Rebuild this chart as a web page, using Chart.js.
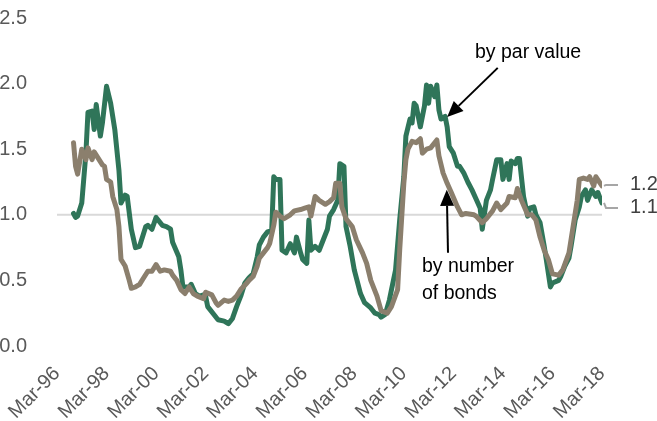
<!DOCTYPE html>
<html>
<head>
<meta charset="utf-8">
<script src="https://cdn.jsdelivr.net/npm/chart.js@4.4.1/dist/chart.umd.min.js"></script>
<style>
  html, body { margin: 0; padding: 0; background: #fff; }
  #chart { display: block; }
</style>
</head>
<body>
<canvas id="chart" width="657" height="421"></canvas>
<script>
// Axis labels (every 24 months starting Mar-96)
const tickLabels = ['Mar-96', 'Mar-98', 'Mar-00', 'Mar-02', 'Mar-04', 'Mar-06',
                    'Mar-08', 'Mar-10', 'Mar-12', 'Mar-14', 'Mar-16', 'Mar-18'];

// Ratio by par value
const parDates = [
  '1996-11', '1996-12', '1997-01', '1997-03', '1997-05', '1997-06', '1997-08', '1997-09', '1997-10', '1997-12',
  '1998-01', '1998-03', '1998-05', '1998-07', '1998-09', '1998-10', '1998-12', '1999-01', '1999-03', '1999-05',
  '1999-07', '1999-10', '1999-11', '2000-01', '2000-03', '2000-06', '2000-08', '2000-10', '2000-11', '2001-02',
  '2001-03', '2001-04', '2001-07', '2001-08', '2001-10', '2001-12', '2002-02', '2002-03', '2002-04', '2002-07',
  '2002-09', '2002-12', '2003-02', '2003-04', '2003-06', '2003-08', '2003-10', '2003-12', '2004-02', '2004-04',
  '2004-05', '2004-07', '2004-09', '2004-11', '2004-12', '2005-01', '2005-03', '2005-04', '2005-06', '2005-08',
  '2005-10', '2005-11', '2006-01', '2006-02', '2006-04', '2006-05', '2006-06', '2006-08', '2006-10', '2006-12',
  '2007-02', '2007-03', '2007-05', '2007-07', '2007-08', '2007-10', '2007-11', '2008-01', '2008-03', '2008-06',
  '2008-08', '2008-11', '2009-01', '2009-03', '2009-04', '2009-06', '2009-08', '2009-11', '2010-01', '2010-03',
  '2010-04', '2010-06', '2010-07', '2010-08', '2010-09', '2010-11', '2011-01', '2011-02', '2011-03', '2011-04',
  '2011-06', '2011-07', '2011-08', '2011-09', '2011-11', '2011-12', '2012-01', '2012-03', '2012-05', '2012-06',
  '2012-08', '2012-10', '2012-12', '2013-02', '2013-04', '2013-05', '2013-07', '2013-09', '2013-10', '2013-12',
  '2014-02', '2014-03', '2014-05', '2014-06', '2014-07', '2014-09', '2014-10', '2014-11', '2015-01', '2015-03',
  '2015-04', '2015-06', '2015-07', '2015-09', '2015-11', '2015-12', '2016-02', '2016-03', '2016-06', '2016-07',
  '2016-09', '2016-11', '2016-12', '2017-02', '2017-04', '2017-05', '2017-07', '2017-08', '2017-10', '2017-12',
  '2018-01', '2018-03'
];
const parValues = [
  1.01, 0.98, 0.99, 1.09, 1.47, 1.78, 1.79, 1.65, 1.84, 1.60,
  1.70, 1.98, 1.85, 1.65, 1.34, 1.09, 1.15, 1.14, 0.89, 0.75,
  0.76, 0.91, 0.92, 0.89, 0.98, 0.92, 0.91, 0.89, 0.79, 0.68,
  0.58, 0.45, 0.45, 0.47, 0.40, 0.38, 0.39, 0.38, 0.30, 0.24,
  0.20, 0.19, 0.17, 0.21, 0.30, 0.38, 0.48, 0.52, 0.55, 0.68,
  0.77, 0.83, 0.87, 0.88, 1.29, 1.27, 1.27, 0.73, 0.71, 0.78,
  0.71, 0.83, 0.71, 0.66, 0.63, 0.96, 0.73, 0.76, 0.73, 0.81,
  0.89, 0.99, 1.04, 1.11, 1.39, 1.37, 0.91, 0.76, 0.58, 0.40,
  0.33, 0.29, 0.25, 0.24, 0.22, 0.24, 0.35, 0.58, 0.96, 1.29,
  1.60, 1.73, 1.70, 1.85, 1.83, 1.67, 1.83, 1.99, 1.85, 1.98,
  1.90, 1.99, 1.80, 1.73, 1.75, 1.67, 1.52, 1.47, 1.37, 1.37,
  1.32, 1.25, 1.19, 1.12, 1.05, 0.89, 1.11, 1.19, 1.27, 1.42,
  1.42, 1.27, 1.39, 1.27, 1.41, 1.39, 1.43, 1.43, 1.14, 0.99,
  1.05, 1.06, 1.00, 0.94, 0.76, 0.66, 0.45, 0.48, 0.50, 0.53,
  0.61, 0.67, 0.76, 0.96, 1.06, 1.14, 1.19, 1.11, 1.19, 1.14,
  1.17, 1.09
];

// Ratio by number of bonds
const bondDates = [
  '1996-11', '1996-12', '1997-01', '1997-03', '1997-05', '1997-06', '1997-08', '1997-09', '1997-11', '1998-01',
  '1998-02', '1998-03', '1998-05', '1998-06', '1998-08', '1998-09', '1998-10', '1998-12', '1999-02', '1999-03',
  '1999-05', '1999-07', '1999-09', '1999-11', '2000-01', '2000-03', '2000-05', '2000-07', '2000-10', '2000-11',
  '2001-01', '2001-03', '2001-05', '2001-07', '2001-09', '2001-11', '2002-02', '2002-03', '2002-06', '2002-08',
  '2002-09', '2002-12', '2003-02', '2003-04', '2003-06', '2003-08', '2003-11', '2003-12', '2004-02', '2004-04',
  '2004-05', '2004-07', '2004-09', '2004-10', '2004-11', '2004-12', '2005-01', '2005-03', '2005-05', '2005-08',
  '2005-10', '2006-01', '2006-03', '2006-05', '2006-06', '2006-08', '2006-10', '2007-01', '2007-03', '2007-05',
  '2007-06', '2007-08', '2007-09', '2007-11', '2008-02', '2008-04', '2008-07', '2008-09', '2008-11', '2009-02',
  '2009-04', '2009-07', '2009-09', '2009-12', '2010-01', '2010-03', '2010-04', '2010-05', '2010-07', '2010-09',
  '2010-11', '2010-12', '2011-02', '2011-04', '2011-07', '2011-08', '2011-10', '2011-12', '2012-02', '2012-05',
  '2012-07', '2012-09', '2013-01', '2013-02', '2013-05', '2013-07', '2013-10', '2013-12', '2014-02', '2014-05',
  '2014-06', '2014-09', '2014-10', '2014-12', '2015-03', '2015-05', '2015-07', '2015-09', '2015-11', '2016-01',
  '2016-03', '2016-06', '2016-08', '2016-11', '2017-01', '2017-03', '2017-04', '2017-06', '2017-08', '2017-09',
  '2017-11', '2017-12', '2018-03'
];
const bondValues = [
  1.55, 1.37, 1.31, 1.50, 1.42, 1.51, 1.42, 1.48, 1.43, 1.38,
  1.37, 1.27, 1.25, 1.14, 1.04, 0.91, 0.66, 0.61, 0.50, 0.44,
  0.45, 0.47, 0.52, 0.57, 0.57, 0.62, 0.57, 0.58, 0.57, 0.54,
  0.50, 0.43, 0.40, 0.45, 0.40, 0.38, 0.36, 0.41, 0.39, 0.33,
  0.31, 0.35, 0.34, 0.35, 0.38, 0.43, 0.48, 0.50, 0.53, 0.61,
  0.67, 0.71, 0.75, 0.78, 0.85, 0.92, 1.02, 0.99, 0.97, 1.00,
  1.03, 1.04, 1.05, 1.06, 0.99, 1.14, 1.11, 1.08, 1.10, 1.13,
  1.24, 1.24, 1.06, 0.97, 0.91, 0.81, 0.71, 0.63, 0.50, 0.38,
  0.27, 0.25, 0.30, 0.43, 0.73, 1.24, 1.42, 1.50, 1.56, 1.55,
  1.58, 1.47, 1.50, 1.51, 1.57, 1.45, 1.32, 1.24, 1.17, 1.06,
  1.00, 1.01, 1.00, 0.99, 0.94, 0.97, 1.03, 1.09, 1.04, 1.09,
  1.14, 1.13, 1.20, 1.11, 1.00, 1.00, 0.96, 0.83, 0.73, 0.66,
  0.55, 0.54, 0.58, 0.71, 0.91, 1.11, 1.27, 1.28, 1.27, 1.29,
  1.22, 1.29, 1.22
];

const FONT = "'Liberation Sans', Arial, sans-serif";
const GREEN = '#2f7559';
const TAN = '#8b7f6d';
const REF_GRAY = '#d9d9d9';
const LAST_MONTH = 264; // Mar-18

// months elapsed since Mar-96
function monthIndex(d) {
  const [y, m] = d.split('-').map(Number);
  return (y - 1996) * 12 + (m - 3);
}
function toPoints(dates, values) {
  return dates.map((d, i) => ({ x: monthIndex(d), y: values[i] }));
}

// Notes + arrows, placed in data units (month index, ratio)
const notes = [
  { lines: ['by par value'], at: { x: 228.2, y: 2.233 }, align: 'center',
    from: { x: 213.5, y: 2.12 }, to: { x: 189, y: 1.745 } },
  { lines: ['by number', 'of bonds'], at: { x: 176.8, y: 0.602 }, align: 'left',
    from: { x: 189.4, y: 0.71 }, to: { x: 188.8, y: 1.19 } },
];

function drawArrow(ctx, x1, y1, x2, y2) {
  const ang = Math.atan2(y2 - y1, x2 - x1);
  const head = 16, half = 7;
  const bx = x2 - head * Math.cos(ang), by = y2 - head * Math.sin(ang);
  ctx.beginPath();
  ctx.moveTo(x1, y1);
  ctx.lineTo(bx, by);
  ctx.lineWidth = 2;
  ctx.strokeStyle = '#000';
  ctx.stroke();
  ctx.beginPath();
  ctx.moveTo(x2, y2);
  ctx.lineTo(bx + half * Math.sin(ang), by - half * Math.cos(ang));
  ctx.lineTo(bx - half * Math.sin(ang), by + half * Math.cos(ang));
  ctx.closePath();
  ctx.fillStyle = '#000';
  ctx.fill();
}

const notesPlugin = {
  id: 'notes',
  afterDatasetsDraw(chart) {
    const { ctx, scales: { x, y } } = chart;
    ctx.save();
    ctx.font = '19.5px ' + FONT;
    ctx.textBaseline = 'middle';
    notes.forEach(n => {
      ctx.textAlign = n.align;
      n.lines.forEach((t, i) => {
        ctx.fillStyle = '#000';
        ctx.fillText(t, x.getPixelForValue(n.at.x), y.getPixelForValue(n.at.y) + i * 27);
      });
      drawArrow(ctx, x.getPixelForValue(n.from.x), y.getPixelForValue(n.from.y),
                x.getPixelForValue(n.to.x), y.getPixelForValue(n.to.y));
    });

    // end-of-line value labels with short leader lines
    const xEnd = x.getPixelForValue(LAST_MONTH);
    const yBond = y.getPixelForValue(bondValues[bondValues.length - 1]);
    const yPar = y.getPixelForValue(parValues[parValues.length - 1]);
    const labelBond = yBond - 1;
    const labelPar = Math.max(yPar + 4, labelBond + 23);
    [[yBond, labelBond, bondValues], [yPar, labelPar, parValues]].forEach(([ly, ty, vals]) => {
      ctx.beginPath();
      ctx.moveTo(xEnd + 2, ly);
      ctx.lineTo(xEnd + 4, ty);
      ctx.lineTo(xEnd + 16, ty);
      ctx.lineWidth = 2;
      ctx.strokeStyle = '#a6a6a6';
      ctx.stroke();
      ctx.font = '20px ' + FONT;
      ctx.fillStyle = '#404040';
      ctx.textAlign = 'left';
      ctx.fillText(vals[vals.length - 1].toFixed(1), xEnd + 28, ty);
    });
    ctx.restore();
  }
};

new Chart(document.getElementById('chart'), {
  type: 'line',
  data: {
    datasets: [
      {
        label: 'by number of bonds',
        data: toPoints(bondDates, bondValues),
        borderColor: TAN, borderWidth: 5, order: 0,
      },
      {
        label: 'by par value',
        data: toPoints(parDates, parValues),
        borderColor: GREEN, borderWidth: 5, order: 1,
      },
      {
        label: 'parity',
        data: [{ x: 0, y: 1 }, { x: LAST_MONTH, y: 1 }],
        borderColor: REF_GRAY, borderWidth: 2, order: 2,
      },
    ],
  },
  options: {
    responsive: false,
    animation: false,
    devicePixelRatio: 1,
    layout: { padding: { top: 18, right: 55, left: 0, bottom: 0 } },
    elements: {
      point: { radius: 0 },
      line: { tension: 0, borderJoinStyle: 'round', borderCapStyle: 'round', fill: false },
    },
    plugins: { legend: { display: false }, tooltip: { enabled: false } },
    scales: {
      x: {
        type: 'linear',
        min: 0, max: LAST_MONTH,
        grid: { display: false },
        border: { display: false },
        afterBuildTicks: axis => { axis.ticks = tickLabels.map((_, i) => ({ value: i * 24 })); },
        afterFit: axis => { axis.height = 75; },
        ticks: {
          autoSkip: false,
          minRotation: 45, maxRotation: 45,
          padding: 8,
          color: '#595959',
          font: { family: FONT, size: 20 },
          callback: v => tickLabels[Math.round(v / 24)],
        },
      },
      y: {
        min: 0, max: 2.5,
        grid: { display: false },
        border: { display: false },
        afterFit: axis => { axis.width = 57; axis.paddingTop = 0; axis.paddingBottom = 0; },
        ticks: {
          stepSize: 0.5,
          padding: 22,
          color: '#595959',
          font: { family: FONT, size: 20 },
          callback: v => v.toFixed(1),
        },
      },
    },
  },
  plugins: [notesPlugin],
});
</script>
</body>
</html>
